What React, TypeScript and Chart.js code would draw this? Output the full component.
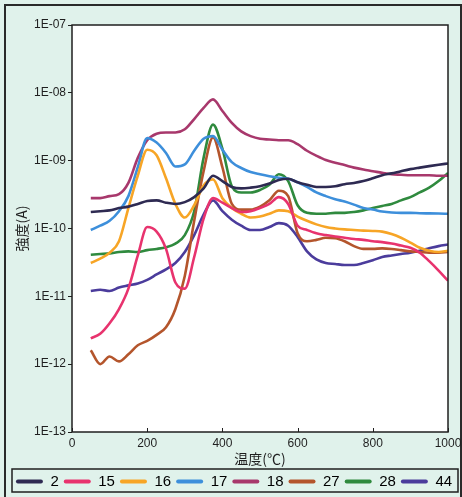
import React, { useEffect, useRef } from 'react';
import { Chart, registerables } from 'chart.js';

Chart.register(...registerables);

// Temperature grid (°C)
const temps = [50, 75, 100, 125, 150, 175, 200, 225, 250, 275, 300, 325, 350, 375, 400, 425, 450, 475, 500, 525, 550, 575, 600, 625, 650, 675, 700, 725, 750, 775, 800, 825, 850, 875, 900, 925, 950, 975, 1000];

// Series labels (m/z) and colours
const seriesLabels = ['2', '15', '16', '17', '18', '27', '28', '44'];
const seriesColors = ['#2e2a52', '#e8336e', '#f7a526', '#3d8fdb', '#a8386c', '#b4552c', '#2f8a3e', '#4b3c9c'];

// Intensities (A)
const mz2 = [1.75e-10, 1.8e-10, 1.85e-10, 2.0e-10, 2.1e-10, 2.3e-10, 2.55e-10, 2.6e-10, 2.4e-10, 2.3e-10, 2.45e-10, 2.9e-10, 3.9e-10, 6.0e-10, 5.0e-10, 4.1e-10, 3.9e-10, 4.0e-10, 4.2e-10, 4.6e-10, 5.2e-10, 5.4e-10, 4.8e-10, 4.4e-10, 4.1e-10, 4.1e-10, 4.2e-10, 4.5e-10, 4.7e-10, 5.0e-10, 5.5e-10, 6.1e-10, 6.5e-10, 7.0e-10, 7.5e-10, 7.9e-10, 8.3e-10, 8.7e-10, 9.1e-10];
const mz15 = [2.4e-12, 2.8e-12, 4.0e-12, 6.5e-12, 1.3e-11, 4.0e-11, 1.05e-10, 9.0e-11, 5.0e-11, 1.6e-11, 1.3e-11, 3.8e-11, 1.4e-10, 2.8e-10, 2.4e-10, 2.0e-10, 1.75e-10, 1.8e-10, 2.0e-10, 2.3e-10, 2.9e-10, 2.3e-10, 1.1e-10, 9.5e-11, 8.5e-11, 8.0e-11, 7.6e-11, 7.3e-11, 7.0e-11, 6.8e-11, 6.5e-11, 6.3e-11, 6.0e-11, 5.6e-11, 5.2e-11, 4.4e-11, 3.3e-11, 2.4e-11, 1.7e-11];
const mz16 = [3.1e-11, 3.6e-11, 4.4e-11, 6.5e-11, 2.0e-10, 6.0e-10, 1.45e-9, 1.2e-9, 5.5e-10, 2.3e-10, 1.45e-10, 2.2e-10, 4.3e-10, 5.3e-10, 2.8e-10, 2.0e-10, 1.65e-10, 1.45e-10, 1.5e-10, 1.65e-10, 1.85e-10, 1.8e-10, 1.5e-10, 1.3e-10, 1.15e-10, 1.05e-10, 1.0e-10, 9.7e-11, 9.5e-11, 9.3e-11, 9.2e-11, 9.0e-11, 8.3e-11, 7.3e-11, 6.2e-11, 5.2e-11, 4.7e-11, 4.5e-11, 4.7e-11];
const mz17 = [9.5e-11, 1.1e-10, 1.3e-10, 1.8e-10, 3.0e-10, 8.0e-10, 2.15e-9, 1.85e-9, 1.3e-9, 8.2e-10, 8.8e-10, 1.4e-9, 2.1e-9, 2.3e-9, 1.45e-9, 9.5e-10, 7.8e-10, 6.8e-10, 6.3e-10, 5.9e-10, 5.6e-10, 5.4e-10, 4.8e-10, 4.1e-10, 3.4e-10, 3.0e-10, 2.7e-10, 2.5e-10, 2.25e-10, 2.0e-10, 1.9e-10, 1.78e-10, 1.72e-10, 1.7e-10, 1.7e-10, 1.68e-10, 1.67e-10, 1.66e-10, 1.65e-10];
const mz18 = [2.8e-10, 2.8e-10, 3.0e-10, 3.2e-10, 4.7e-10, 1.1e-9, 2.0e-9, 2.5e-9, 2.6e-9, 2.6e-9, 2.9e-9, 4.1e-9, 6.0e-9, 8.0e-9, 5.4e-9, 3.6e-9, 2.7e-9, 2.3e-9, 2.1e-9, 2.05e-9, 2.0e-9, 2.0e-9, 1.75e-9, 1.4e-9, 1.18e-9, 1.02e-9, 9.3e-10, 8.6e-10, 7.9e-10, 7.4e-10, 7.0e-10, 6.6e-10, 6.3e-10, 6.2e-10, 6.1e-10, 6.1e-10, 6.1e-10, 6.0e-10, 6.0e-10];
const mz27 = [1.6e-12, 1.0e-12, 1.3e-12, 1.1e-12, 1.4e-12, 1.9e-12, 2.2e-12, 2.7e-12, 3.5e-12, 6.5e-12, 2.0e-11, 1.3e-10, 7.0e-10, 2.2e-9, 8.0e-10, 2.3e-10, 1.9e-10, 1.9e-10, 2.1e-10, 2.6e-10, 3.6e-10, 3.0e-10, 8.5e-11, 6.5e-11, 6.8e-11, 7.3e-11, 7.2e-11, 6.5e-11, 5.5e-11, 5.0e-11, 5.0e-11, 5.1e-11, 5.0e-11, 4.8e-11, 4.6e-11, 4.5e-11, 4.4e-11, 4.4e-11, 4.5e-11];
const mz28 = [4.1e-11, 4.2e-11, 4.3e-11, 4.5e-11, 4.6e-11, 4.5e-11, 4.8e-11, 5.0e-11, 5.3e-11, 6.0e-11, 8.0e-11, 1.8e-10, 1.1e-9, 3.4e-9, 1.5e-9, 4.2e-10, 3.4e-10, 3.4e-10, 3.7e-10, 4.4e-10, 6.3e-10, 5.0e-10, 2.2e-10, 1.7e-10, 1.65e-10, 1.65e-10, 1.7e-10, 1.7e-10, 1.75e-10, 1.85e-10, 2.0e-10, 2.15e-10, 2.3e-10, 2.6e-10, 2.9e-10, 3.4e-10, 4.0e-10, 5.0e-10, 6.6e-10];
const mz44 = [1.2e-11, 1.25e-11, 1.2e-11, 1.35e-11, 1.45e-11, 1.55e-11, 1.75e-11, 2.1e-11, 2.5e-11, 3.1e-11, 4.5e-11, 8.0e-11, 1.6e-10, 2.6e-10, 1.8e-10, 1.35e-10, 1.1e-10, 9.5e-11, 9.5e-11, 1.05e-10, 1.2e-10, 1.1e-10, 7.5e-11, 4.6e-11, 3.5e-11, 3.1e-11, 3.0e-11, 2.9e-11, 2.9e-11, 3.1e-11, 3.4e-11, 3.8e-11, 4.0e-11, 4.2e-11, 4.4e-11, 4.7e-11, 5.1e-11, 5.5e-11, 5.8e-11];

const seriesValues = [mz2, mz15, mz16, mz17, mz18, mz27, mz28, mz44];

// Axis ticks and titles
const xTicks = [0, 200, 400, 600, 800, 1000];
const xTickLabels = ['0', '200', '400', '600', '800', '1000'];
const yTicks = [1e-13, 1e-12, 1e-11, 1e-10, 1e-9, 1e-8, 1e-7];
const yTickLabels = ['1E-13', '1E-12', '1E-11', '1E-10', '1E-09', '1E-08', '1E-07'];
const xTitle = '温度(℃)';
const yTitle = '強度(A)';

const INK = '#1f1f1f';
const LATIN = "'Liberation Sans', Arial, sans-serif";
const CJK = "'Noto Sans CJK JP', 'Liberation Sans', sans-serif";

const framePlugin = {
  id: 'frameDecor',
  beforeDraw(chart: any) {
    const { ctx, chartArea: a } = chart;
    ctx.save();
    ctx.fillStyle = '#ffffff';
    ctx.fillRect(a.left, a.top, a.right - a.left, a.bottom - a.top);
    ctx.restore();
  },
  afterDraw(chart: any) {
    const { ctx, chartArea: a } = chart;
    ctx.save();
    ctx.strokeStyle = INK;
    ctx.lineWidth = 1.5;
    ctx.strokeRect(a.left, a.top, a.right - a.left, a.bottom - a.top);
    const xs = chart.scales.x;
    ctx.lineWidth = 1;
    xTicks.forEach((v) => {
      const px = Math.round(xs.getPixelForValue(v)) + 0.5;
      ctx.beginPath();
      ctx.moveTo(px, a.bottom);
      ctx.lineTo(px, a.bottom - 4);
      ctx.stroke();
    });
    const lg = chart.legend;
    if (lg) {
      ctx.lineWidth = 1.5;
      ctx.strokeRect(12, lg.top, 446, lg.bottom - lg.top - 7);
    }
    ctx.restore();
  },
};

export default function App() {
  const ref = useRef<HTMLCanvasElement | null>(null);

  useEffect(() => {
    if (!ref.current) return;
    const datasets = seriesLabels.map((label, i) => ({
      label,
      data: temps.map((t, j) => ({ x: t, y: seriesValues[i][j] })),
      borderColor: seriesColors[i],
      backgroundColor: seriesColors[i],
      borderWidth: 2.6,
      pointRadius: 0,
      cubicInterpolationMode: 'monotone' as const,
      fill: false,
    }));

    const chart = new Chart(ref.current, {
      type: 'line',
      data: { datasets },
      plugins: [framePlugin],
      options: {
        responsive: false,
        animation: false,
        events: [],
        layout: { padding: { left: 6, right: 0, top: 25, bottom: 0 } },
        scales: {
          x: {
            type: 'linear',
            min: 0,
            max: 1000,
            afterBuildTicks: (s: any) => {
              s.ticks = xTicks.map((v) => ({ value: v }));
            },
            afterFit: (s: any) => {
              s.height = 37;
              s.paddingRight = 14;
              s.paddingLeft = 0;
            },
            ticks: {
              color: INK,
              font: { family: LATIN, size: 12 },
              padding: 4,
              maxRotation: 0,
              callback: (_v: any, i: number) => xTickLabels[i],
            },
            grid: { display: false, drawTicks: false },
            border: { display: false },
            title: {
              display: true,
              text: xTitle,
              color: INK,
              font: { family: CJK, size: 14 },
              padding: { top: 0, bottom: 2 },
            },
          },
          y: {
            type: 'logarithmic',
            min: 1e-13,
            max: 1e-7,
            afterBuildTicks: (s: any) => {
              s.ticks = yTicks.map((v) => ({ value: v, major: true }));
            },
            afterFit: (s: any) => {
              s.width = 66;
            },
            ticks: {
              color: INK,
              font: { family: LATIN, size: 12 },
              padding: 2,
              callback: (_v: any, i: number) => yTickLabels[i],
            },
            grid: { display: true, drawOnChartArea: false, drawTicks: true, tickLength: 4, color: INK },
            border: { display: false },
            title: {
              display: true,
              text: yTitle,
              color: INK,
              font: { family: CJK, size: 14 },
              padding: { top: 7, bottom: 0 },
            },
          },
        },
        plugins: {
          legend: {
            position: 'bottom',
            labels: {
              boxWidth: 27,
              boxHeight: 4,
              padding: 5,
              color: INK,
              font: { family: LATIN, size: 15 },
              generateLabels: (chart: any) =>
                chart.data.datasets.map((d: any, i: number) => ({
                  text: d.label,
                  fillStyle: d.borderColor,
                  strokeStyle: d.borderColor,
                  lineWidth: 0,
                  borderRadius: 2,
                  hidden: false,
                  datasetIndex: i,
                })),
              useBorderRadius: true,
            },
          },
          tooltip: { enabled: false },
        },
      },
    });
    return () => chart.destroy();
  }, []);

  return (
    <div style={{ position: 'absolute', left: 0, top: 0, width: 462, height: 497, background: '#e0f2eb', overflow: 'hidden' }}>
      <div style={{ position: 'absolute', left: 4, top: 4, width: 454, height: 520, border: '2px solid #2a2a2a' }} />
      <canvas ref={ref} width={462} height={499} style={{ position: 'absolute', left: 0, top: 0 }} />
    </div>
  );
}
